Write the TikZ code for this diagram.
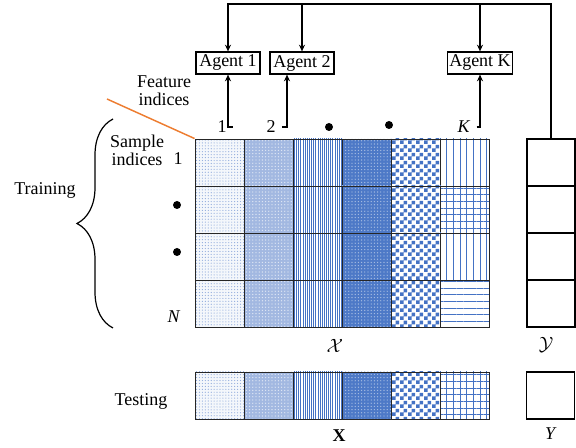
\documentclass[tikz,border=0pt]{standalone}
\usepackage{fontspec}
\setmainfont{Liberation Serif}
\usepackage{tikz}
\usetikzlibrary{arrows.meta, positioning, calc, decorations.pathreplacing, patterns, patterns.meta}
\definecolor{cellblue}{RGB}{68, 114, 196}
\definecolor{cutorange}{RGB}{237, 125, 49}
\pgfdeclarepatternformonly{smallchecker}{\pgfpointorigin}{\pgfqpoint{6pt}{6pt}}{\pgfqpoint{6pt}{6pt}}{%
  \pgfpathrectangle{\pgfpointorigin}{\pgfqpoint{3pt}{3pt}}%
  \pgfpathrectangle{\pgfqpoint{3pt}{3pt}}{\pgfqpoint{3pt}{3pt}}%
  \pgfusepath{fill}}

\tikzset{
  cell/.style={draw=black!85, line width=0.7pt, minimum width=36.75pt, minimum height=35.25pt, inner sep=0pt},
  patA/.style={preaction={fill=cellblue!6}, pattern={Dots[distance=2.2pt, radius=0.45pt]}, pattern color=cellblue!60},
  patB/.style={preaction={fill=cellblue!50}, pattern={Dots[distance=2.4pt, radius=0.5pt]}, pattern color=cellblue!15},
  patC/.style={pattern={Lines[angle=90, distance=1.6pt, line width=0.55pt]}, pattern color=cellblue},
  patD/.style={preaction={fill=cellblue!95}, pattern={Dots[distance=2.4pt, radius=0.5pt]}, pattern color=cellblue!45},
  patE/.style={pattern=smallchecker, pattern color=cellblue},
  sparseV/.style={pattern={Lines[angle=90, distance=5pt, line width=0.7pt]}, pattern color=cellblue},
  sparseH/.style={pattern={Lines[angle=0, distance=5pt, line width=0.7pt]}, pattern color=cellblue},
  gridpat/.style={pattern={Hatch[angle=0, distance=5pt, line width=0.7pt]}, pattern color=cellblue},
  ybox/.style={draw, line width=0.9pt, minimum width=36pt, minimum height=35.25pt, inner sep=0pt},
  agent/.style={draw, line width=0.9pt, minimum width=48pt, minimum height=16.5pt, inner sep=1.5pt},
  bigdot/.style={circle, fill=black, inner sep=0pt, minimum size=6pt},
  link/.style={line width=0.9pt, -{Stealth[length=5pt, width=4.5pt]}}
}

\begin{document}
\fontsize{13.5}{15.5}\selectfont
\begin{tikzpicture}[x=0.75pt, y=-0.75pt]
  \useasboundingbox (0,0) rectangle (576,448);

  % training matrix
  \foreach \r/\yy/\last in {1/162.5/sparseV, 2/209.5/gridpat, 3/256.5/sparseV, 4/303.5/sparseH} {
    \foreach \c/\xx/\pat in {1/219.5/patA, 2/268.5/patB, 3/317.5/patC, 4/366.5/patD, 5/415.5/patE} {
      \node[cell, \pat] (c\r\c) at (\xx,\yy) {};
    }
    \node[cell, \last] (c\r6) at (464.5,\yy) {};
    \node[ybox] (y\r) at (551,\yy) {};
  }

  % testing row
  \foreach \c/\xx/\pat in {1/219.5/patA, 2/268.5/patB, 3/317.5/patC, 4/366.5/patD, 5/415.5/patE, 6/464.5/gridpat} {
    \node[cell, \pat] (t\c) at (\xx,395.5) {};
  }
  \node[ybox] (ytest) at (550.5,395.5) {};

  % agents
  \node[agent] (ag1) at (228,63) {Agent 1};
  \node[agent] (ag2) at (302,63) {Agent 2};
  \node[agent] (agK) at (480,63) {Agent K};

  % feature indices
  \node (f1) at (222,127) {1};
  \node (f2) at (271,127) {2};
  \node (fK) at (464,127) {\textit{K}};
  \node[bigdot] (fd1) at (329,127) {};
  \node[bigdot] (fd2) at (389,125) {};
  \node[align=center, inner sep=0pt] (flabel) at (164,91) {Feature\\[-2pt]indices};

  % sample indices
  \node[align=center, inner sep=0pt] (slabel) at (137,150) {Sample\\[-2pt]indices};
  \node (s1) at (178,159) {1};
  \node[bigdot] (sd1) at (177,205) {};
  \node[bigdot] (sd2) at (177,252) {};
  \node (sN) at (174,317) {\textit{N}};

  \draw[link] (f1.east) -| (ag1.south);
  \draw[link] (f2.east) -| ($(ag2.south)+(-15,0)$);
  \draw[link] (fK.east) -| (agK.south);

  % feedback from labels
  \coordinate (bus) at (0,4);
  \draw[link] (y1.north) |- (bus -| ag1.north) -- (ag1.north);
  \draw[link] (bus -| ag2.north) -- (ag2.north);
  \draw[link] (bus -| agK.north) -- (agK.north);

  % split line
  \coordinate (cut) at (107,99);
  \draw[cutorange, line width=1.1pt] (cut) -- (c11.north west);

  % training brace
  \coordinate (brtop) at (113,119);
  \coordinate (brbot) at (113,328);
  \draw[decorate, decoration={brace, amplitude=27pt}, line width=0.9pt] (brbot) -- (brtop);
  \node (train) at (45,190) {Training};
  \node (test) at (141,401) {Testing};

  % set names
  \node (xset) at (335,346) {$\mathcal{X}$};
  \node (yset) at (546,345) {$\mathcal{Y}$};
  \node (xbold) at (339,436) {\textbf{X}};
  \node (ylab) at (551,434) {\textit{Y}};
\end{tikzpicture}
\end{document}
